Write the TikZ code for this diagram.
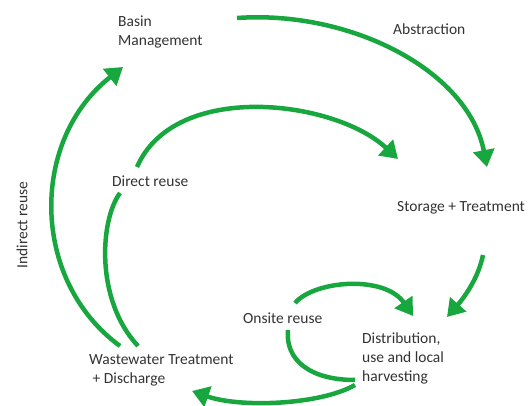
\documentclass[tikz,border=0pt]{standalone}
\usepackage{fontspec}
\setmainfont{Carlito}
\usetikzlibrary{arrows.meta}
\definecolor{flowgreen}{RGB}{24,166,62}
\tikzset{
  txt/.style={anchor=west, inner sep=0pt, align=left, text=black!80,
    font=\fontsize{15.5}{19}\selectfont},
  flow/.style={draw=flowgreen, line width=4.5pt},
  flowtip/.style={-{Triangle[length=17pt,width=21pt]}}
}
\begin{document}
\begin{tikzpicture}[x=1pt,y=-1pt]
      \useasboundingbox (0,0) rectangle (531,406);
      \draw
        (118,32) node[txt] (basin){Basin\\Management}
        (393,29) node[txt] (abstraction){Abstraction}
        (112,181) node[txt] (direct){Direct reuse}
        (397,208) node[txt] (storage){Storage + Treatment}
        (22,225) node[txt,anchor=center,rotate=90] (indirect){Indirect reuse}
        (243,318) node[txt] (onsite){Onsite reuse}
        (362,358) node[txt] (distribution){Distribution,\\use and local\\harvesting}
        (89,370) node[txt] (wastewater){Wastewater Treatment\\\ + Discharge};
      \draw
        (237,18) coordinate (basin-out)
        (487,167) coordinate (storage-in)
        (483,255) coordinate (storage-out)
        (447,317) coordinate (distribution-in)
        (413,316) coordinate (onsite-in)
        (295,303) coordinate (onsite-out)
        (288,330) coordinate (onsite-back)
        (355,380) coordinate (distribution-back)
        (355,385) coordinate (distribution-out)
        (192,391) coordinate (wastewater-in)
        (120,346) coordinate (wastewater-up)
        (138,346) coordinate (wastewater-direct)
        (120,193) coordinate (direct-low)
        (137,167) coordinate (direct-high)
        (398,159) coordinate (direct-in)
        (123,67) coordinate (basin-in);
      \begin{scope}[flow]
        \draw[flowtip] (basin-out) .. controls (350,10) and (468,70) .. (storage-in);
        \draw[flowtip] (storage-out) .. controls (478,280) and (462,300) .. (distribution-in);
        \draw[flowtip] (onsite-out) .. controls (315,280) and (385,275) .. (onsite-in);
        \draw (distribution-back) .. controls (310,380) and (285,360) .. (onsite-back);
        \draw[flowtip] (distribution-out) .. controls (320,405) and (240,408) .. (wastewater-in);
        \draw (wastewater-direct) .. controls (95,300) and (100,220) .. (direct-low);
        \draw[flowtip] (direct-high) .. controls (175,80) and (335,100) .. (direct-in);
        \draw[flowtip] (wastewater-up) .. controls (30,280) and (30,140) .. (basin-in);
      \end{scope}
    \end{tikzpicture}
\end{document}
